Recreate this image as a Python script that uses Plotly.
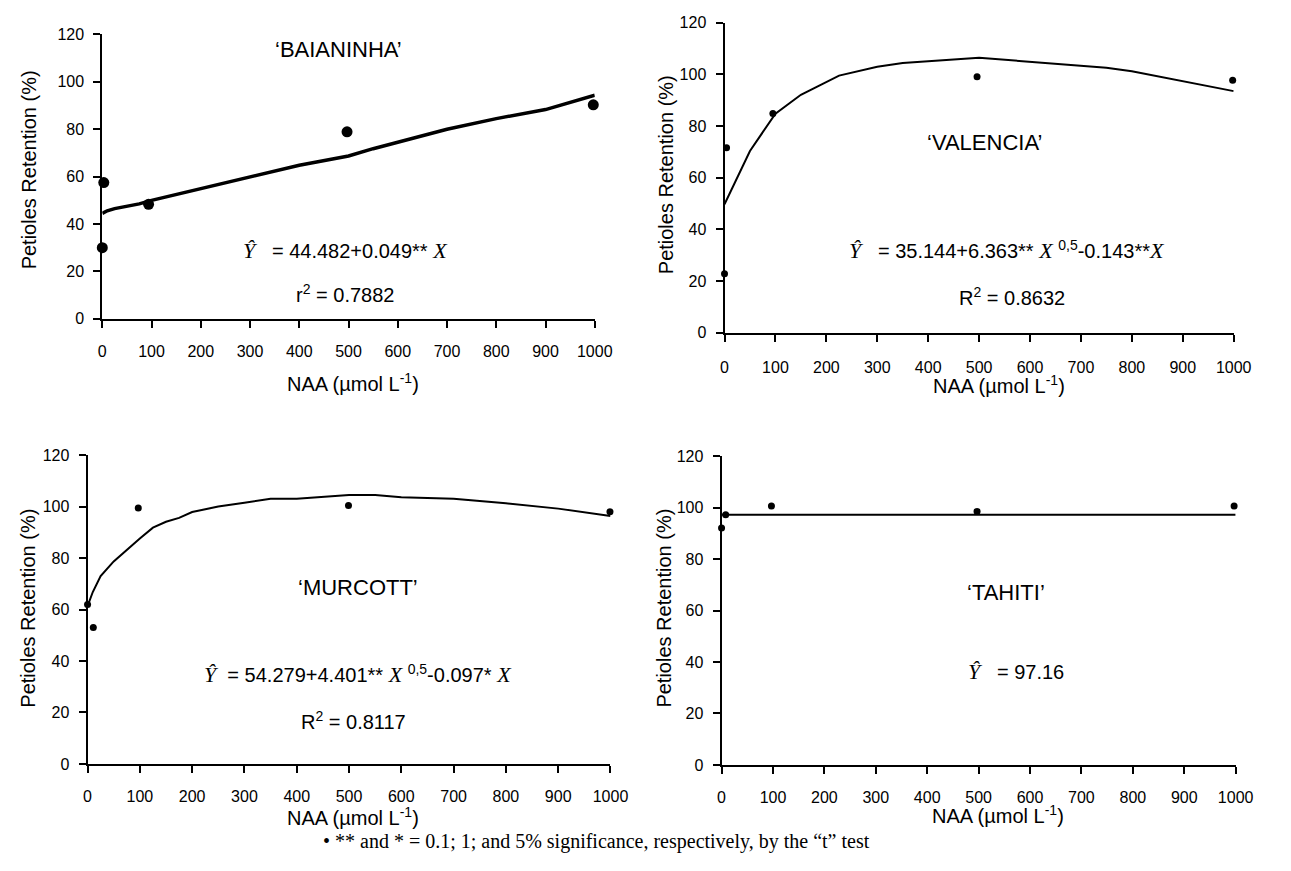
import plotly.graph_objects as go

# ---------------- data ----------------
x_ticks = [0, 100, 200, 300, 400, 500, 600, 700, 800, 900, 1000]
y_ticks = [0, 20, 40, 60, 80, 100, 120]

# BAIANINHA
bai_pts_x = [0, 3, 94, 497, 997]
bai_pts_y = [30.0, 57.5, 48.3, 78.9, 90.3]
bai_fit_x = [0, 10, 25, 75, 100, 200, 300, 400, 500, 550, 700, 800, 900, 1000]
bai_fit_y = [44.5, 45.6, 46.5, 48.5, 50.0, 55.0, 60.0, 64.8, 68.7, 71.8, 80.0, 84.5, 88.3, 94.4]

# VALENCIA
val_pts_x = [0, 4, 95, 496, 998]
val_pts_y = [22.8, 71.6, 84.8, 99.1, 97.7]
val_fit_x = [0, 50, 100, 150, 225, 300, 350, 500, 750, 800, 1000]
val_fit_y = [49.7, 70.3, 84.8, 92.1, 99.5, 102.9, 104.4, 106.4, 102.6, 101.2, 93.5]

# MURCOTT
mur_pts_x = [0, 11, 97, 499, 999]
mur_pts_y = [62.0, 53.0, 99.4, 100.4, 98.0]
mur_fit_x = [0, 10, 25, 50, 100, 125, 150, 175, 200, 250, 300, 350, 400, 500, 550, 600, 700, 800, 900, 1000]
mur_fit_y = [61.3, 66.8, 73.0, 78.7, 87.6, 91.8, 94.1, 95.6, 97.9, 100.0, 101.5, 103.0, 103.0,
             104.5, 104.5, 103.6, 103.0, 101.3, 99.2, 96.3]

# TAHITI
tah_pts_x = [0, 8, 97, 497, 997]
tah_pts_y = [92.1, 97.2, 100.6, 98.5, 100.6]
tah_fit_x = [0, 1000]
tah_fit_y = [97.16, 97.16]

# ---------------- layout helpers ----------------
W, H = 1291, 871
def px(x):
    return x / W
def py(y):
    return 1 - y / H

SANS = "Liberation Sans, Arial, sans-serif"
SERIF = "Liberation Serif, Times New Roman, serif"

fig = go.Figure()

panels = [
    (bai_pts_x, bai_pts_y, bai_fit_x, bai_fit_y, "x", "y", 3.5, 11),
    (val_pts_x, val_pts_y, val_fit_x, val_fit_y, "x2", "y2", 2, 7),
    (mur_pts_x, mur_pts_y, mur_fit_x, mur_fit_y, "x3", "y3", 2, 7),
    (tah_pts_x, tah_pts_y, tah_fit_x, tah_fit_y, "x4", "y4", 2, 7),
]
for ptx, pty, fx, fy, xa, ya, lw, ms in panels:
    fig.add_trace(go.Scatter(x=fx, y=fy, mode="lines", xaxis=xa, yaxis=ya,
                             line=dict(color="black", width=lw), cliponaxis=False,
                             showlegend=False, hoverinfo="skip"))
    fig.add_trace(go.Scatter(x=ptx, y=pty, mode="markers", xaxis=xa, yaxis=ya,
                             marker=dict(color="black", size=ms), cliponaxis=False,
                             showlegend=False))

# axis domains from pixel geometry: ((x_left, x_right), (y_bottom, y_top), x-label standoff)
domains = {
    1: ((100, 601), (317, 27), 10),
    2: ((733, 1251), (331, 15), 12),
    3: ((85, 617), (771, 456), 10),
    4: ((730, 1253), (772, 457), 10),
}

axis_common = dict(showline=True, linecolor="black", linewidth=2, ticks="outside",
                   ticklen=7, tickwidth=1.5, tickcolor="black", showgrid=False,
                   zeroline=False, mirror=False,
                   tickfont=dict(family=SANS, size=16, color="black"))

layout = dict(width=W, height=H, autosize=False, margin=dict(l=0, r=0, t=0, b=0, pad=0),
              paper_bgcolor="white", plot_bgcolor="white", showlegend=False)
for i, ((xl, xr), (yb, yt), so) in domains.items():
    sx = "" if i == 1 else str(i)
    layout["xaxis" + sx] = dict(axis_common, domain=[px(xl), px(xr)], range=[0, 1000],
                                tickvals=x_ticks, ticklabelstandoff=so,
                                anchor="y" + sx)
    layout["yaxis" + sx] = dict(axis_common, domain=[py(yb), py(yt)], range=[0, 120],
                                tickvals=y_ticks, ticklabelstandoff=6,
                                anchor="x" + sx)
fig.update_layout(**layout)

def it(s, size=22):
    return f'<span style="font-family:{SERIF};font-style:italic;font-size:{size}px">{s}</span>'

xtitle = "NAA (µmol L<sup>-1</sup>)"
ytitle = "Petioles Retention (%)"

annots = [
    # text, x, y, size, angle
    ("‘BAIANINHA’", 340, 42, 22, 0),
    (it("Ŷ") + "\u00a0\u00a0 = 44.482+0.049** " + it("X"), 347, 247, 20, 0),
    ("r<sup>2</sup> = 0.7882", 347, 291, 20, 0),
    (xtitle, 355, 382, 20, 0),
    (ytitle, 25, 165, 20, -90),

    ("‘VALENCIA’", 997, 137, 22, 0),
    (it("Ŷ") + "\u00a0\u00a0 = 35.144+6.363** " + it("X") + " <sup>0,5</sup>-0.143**" + it("X"), 1020, 247, 20, 0),
    ("R<sup>2</sup> = 0.8632", 1025, 294, 20, 0),
    (xtitle, 1012, 384, 20, 0),
    (ytitle, 673, 170, 20, -90),

    ("‘MURCOTT’", 360, 591, 22, 0),
    (it("Ŷ") + "\u00a0 = 54.279+4.401** " + it("X") + " <sup>0,5</sup>-0.097* " + it("X"), 360, 679, 20, 0),
    ("R<sup>2</sup> = 0.8117", 356, 727, 20, 0),
    (xtitle, 355, 825, 20, 0),
    (ytitle, 24, 612, 20, -90),

    ("‘TAHITI’", 1019, 596, 22, 0),
    (it("Ŷ") + "\u00a0\u00a0 = 97.16", 1030, 677, 20, 0),
    (xtitle, 1011, 823, 20, 0),
    (ytitle, 671, 612, 20, -90),
]
for text, x, y, size, ang in annots:
    fig.add_annotation(text=text, x=px(x), y=py(y), xref="paper", yref="paper",
                       xanchor="center", yanchor="middle", showarrow=False,
                       textangle=ang, font=dict(family=SANS, size=size, color="black"))

fig.add_annotation(text="•\u00a0** and * = 0.1; 1; and 5% significance, respectively, by the “t” test",
                   x=px(603), y=py(850), xref="paper", yref="paper", xanchor="center",
                   yanchor="middle", showarrow=False,
                   font=dict(family=SERIF, size=20, color="black"))

fig.write_html("out.html", config={"displayModeBar": False},
               post_script="document.body.style.margin='0';document.body.style.overflow='hidden';")
